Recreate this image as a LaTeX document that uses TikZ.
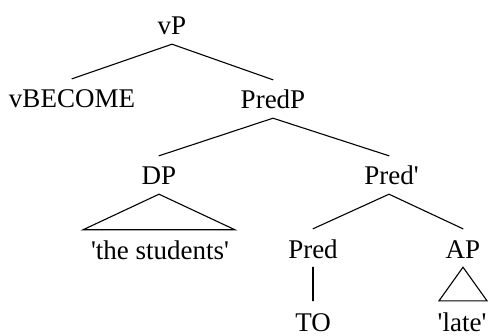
\documentclass[tikz,border=0pt]{standalone}
\usepackage{fontspec}
\setmainfont{Liberation Serif}
\usetikzlibrary{calc}
\newcommand{\sq}{\textquotesingle}
\tikzset{
  lbl/.style={anchor=base, inner sep=0pt, text height=29pt, text depth=9pt, font=\fontsize{27}{32}\selectfont},
  leaf/.style={lbl, text depth=2pt},
  br/.style={line width=1.1pt, line cap=round, line join=miter}
}
\begin{document}
\begin{tikzpicture}[x=1pt,y=1pt]
\useasboundingbox (0,0) rectangle (490,335);
% y = 335 - pixel row
\node[lbl] (vP) at (172,300) {vP};
\node[lbl] (vB) at (72,227) {vBECOME};
\node[lbl] (PredP) at (273,226) {PredP};
\node[lbl] (DP) at (159,150) {DP};
\node[lbl] (Predb) at (389,150) {\hphantom{\sq}Pred\sq};
\node[lbl] (stud) at (160,76) {\sq the students\sq};
\node[lbl] (Pred) at (313,77) {Pred};
\node[lbl] (AP) at (463,77) {AP};
\node[leaf] (TO) at (313,4) {TO};
\node[leaf] (late) at (462,4) {\sq late\sq};
\draw[br] (vB.north) -- (vP.south) -- (PredP.north);
\draw[br] (DP.north) -- (PredP.south) -- (Predb.north);
\draw[br] (Pred.north) -- (Predb.south) -- (AP.north);
\draw[br] (DP.south) -- ($(DP.south |- stud.north)+(76,0)$) -- ($(DP.south |- stud.north)+(-76,0)$) -- cycle;
\draw[br] (Pred.south) -- ($(Pred.south |- TO.north)+(0,1)$);
\draw[br] (AP.south) -- ($(AP.south |- late.north)+(24,1)$) -- ($(AP.south |- late.north)+(-24,1)$) -- cycle;
\end{tikzpicture}
\end{document}
